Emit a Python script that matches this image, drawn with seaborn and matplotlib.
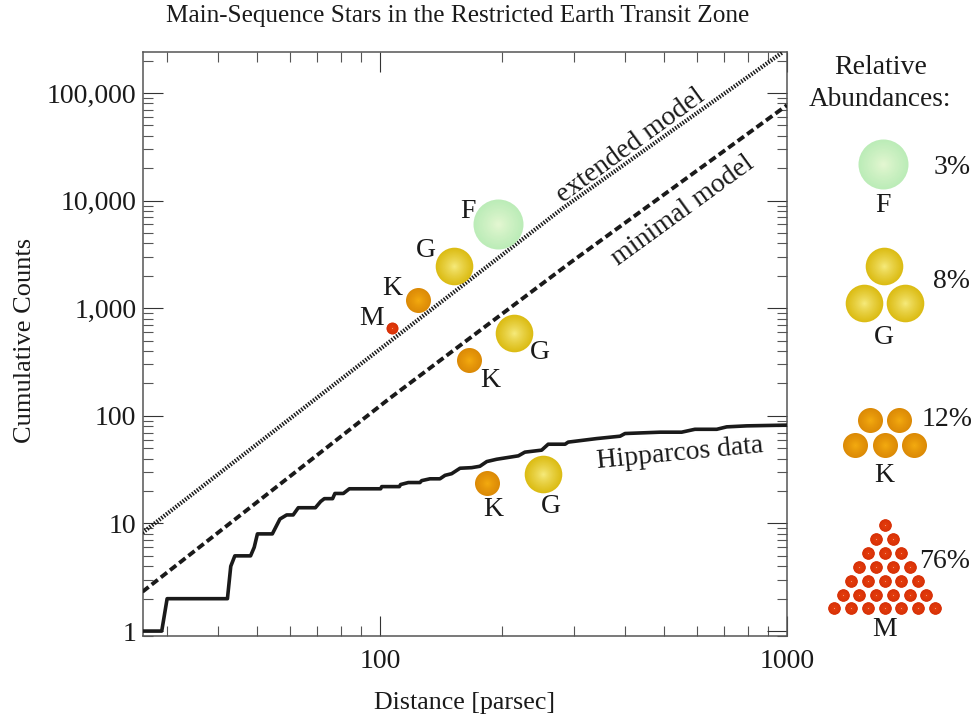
import numpy as np
import pandas as pd
import seaborn as sns
import matplotlib.pyplot as plt
from matplotlib.ticker import FixedLocator, FuncFormatter, NullFormatter, LogLocator

sns.set_theme(style="ticks")
plt.rcParams['font.family'] = ['Liberation Serif', 'DejaVu Serif']

# Hipparcos cumulative counts
hip_dist = [26.1, 29.1, 30.0, 42.2, 43.0, 44.0, 48.1, 49.1, 50.0, 54.4, 56.8, 59.0, 61.2, 63.0,
            69.4, 71.5, 73.0, 76.5, 77.5, 81.3, 84.1, 100.4, 101, 111.6, 112.4, 117.4, 125.4,
            126.6, 132.7, 140.4, 144.5, 150, 157.3, 168, 176, 183, 193.5, 218.8, 227, 249.6,
            259, 285, 290, 341, 389, 400, 487.5, 551, 594, 672, 711, 796, 1000]
hip_count = [1, 1, 2, 2, 4, 5, 5, 6, 8, 8, 11, 12, 12, 14,
             14, 16, 17, 17, 19, 19, 21, 21, 22, 22, 23, 24, 24,
             25, 26, 26, 28, 29, 32.6, 33, 34, 37.6, 39.5, 42.5, 46, 48,
             54.5, 54.5, 57, 61.5, 64.7, 68.5, 70.5, 70.5, 75, 75, 79, 80.7, 82]

# model curves
ext_dist = [26.1, 84.4, 281.6, 977]
ext_count = [8.2, 254, 8540, 240000]
min_dist = [26.1, 105.8, 293, 1000]
min_count = [2.32, 146, 2640, 77000]

# stars sitting on the plot
star_types = ['F', 'G', 'K', 'M', 'G', 'K', 'K', 'G']
star_dist = [194.6, 151.7, 124, 107, 213, 165.5, 183, 251]
star_count = [6060, 2483, 1192, 655, 588, 330, 23.7, 28.8]

# relative abundances
abund_types = ['F', 'G', 'K', 'M']
abund_pct = ['3%', '8%', '12%', '76%']

y_ticks = [1, 10, 100, 1000, 10000, 100000]
x_ticks = [100, 1000]

radius = {'F': 25, 'G': 18.8, 'K': 12.5, 'M': 6.3}
light = {'F': '#e8f8d4', 'G': '#f8ee84', 'K': '#f6ae10', 'M': '#e8400c'}
dark = {'F': '#bcecb8', 'G': '#dcbc14', 'K': '#dc8a06', 'M': '#d83208'}
radius_main = {'F': 25, 'G': 18.8, 'K': 12.5, 'M': 6}
label_off = {0: (-30, 13), 1: (-28, 15), 2: (-26, 12), 3: (-20, 10),
             4: (26, -19), 5: (21, -20), 6: (6, -26), 7: (8, -32)}
PX = 72 / 100
FS = 20


def draw_star(ax, x, y, kind, r):
    # layered discs fake the radial shading
    xs = np.atleast_1d(x)
    ys = np.atleast_1d(y)
    c0 = np.array(plt.matplotlib.colors.to_rgb(dark[kind]))
    c1 = np.array(plt.matplotlib.colors.to_rgb(light[kind]))
    for f in np.linspace(1, 0.06, 16):
        col = c1 + (c0 - c1) * f ** 0.8
        sns.scatterplot(x=xs, y=ys, s=(2 * r * f * PX) ** 2, color=[tuple(col)], linewidth=0,
                        ax=ax, legend=False, zorder=5, clip_on=False)


fig = plt.figure(figsize=(9.75, 7.21), dpi=100)
ax = fig.add_axes([142.5 / 975, 1 - 636 / 721, (787 - 142.5) / 975, (636 - 52) / 721])

sns.lineplot(x=hip_dist, y=hip_count, color='k', lw=2.6, ax=ax, zorder=3, estimator=None, sort=False)
sns.lineplot(x=min_dist, y=min_count, color='k', lw=2.8, ax=ax, zorder=3, estimator=None,
             sort=False, linestyle=(0, (2.0, 1.0)))
sns.lineplot(x=ext_dist, y=ext_count, color='k', lw=3, ax=ax, zorder=3, estimator=None,
             sort=False, linestyle=(0, (0.36, 0.36)))

ax.set_xscale('log')
ax.set_yscale('log')
ax.set_xlim(26.1, 1000)
ax.set_ylim(0.9, 240400)

ax.xaxis.set_major_locator(FixedLocator(x_ticks))
ax.xaxis.set_major_formatter(FuncFormatter(lambda v, p: f'{int(v)}'))
ax.xaxis.set_minor_locator(FixedLocator([v * d for d in (10, 100) for v in range(2, 10)]))
ax.xaxis.set_minor_formatter(NullFormatter())
ax.yaxis.set_major_locator(FixedLocator(y_ticks))
ax.yaxis.set_major_formatter(FuncFormatter(lambda v, p: f'{int(v):,}'))
ax.yaxis.set_minor_locator(LogLocator(base=10, subs=range(2, 10), numticks=12))
ax.yaxis.set_minor_formatter(NullFormatter())
ax.tick_params(which='major', direction='in', top=True, right=True, length=20 * PX, width=0.8,
               color='#333333', labelsize=FS, labelcolor='k', pad=9)
ax.tick_params(axis='y', which='major', pad=4.5)
ax.tick_params(which='minor', direction='in', top=True, right=True, length=10 * PX, width=0.8,
               color='#555555')
for s in ax.spines.values():
    s.set_linewidth(1.1)
    s.set_color('#555555')

for i, kind in enumerate(star_types):
    draw_star(ax, star_dist[i], star_count[i], kind, radius_main[kind])
    ax.annotate(kind, (star_dist[i], star_count[i]), xytext=(label_off[i][0] * PX, label_off[i][1] * PX),
                textcoords='offset points', ha='center', va='center', fontsize=FS, color='k', zorder=6)

ax.text(631 / 975, 1 - 146 / 721, 'extended model', transform=fig.transFigure, rotation=36, fontsize=FS,
        ha='center', va='center', rotation_mode='anchor', color='k')
ax.text(683 / 975, 1 - 211 / 721, 'minimal model', transform=fig.transFigure, rotation=36, fontsize=FS,
        ha='center', va='center', rotation_mode='anchor', color='k')
ax.text(680 / 975, 1 - 454 / 721, 'Hipparcos data', transform=fig.transFigure, rotation=5.5, fontsize=FS,
        ha='center', va='center', rotation_mode='anchor', color='k')

fig.text(458 / 975, 1 - 16 / 721, 'Main-Sequence Stars in the Restricted Earth Transit Zone', fontsize=18.2,
         ha='center', va='center', color='k')
fig.text(465 / 975, 1 - 703 / 721, 'Distance [parsec]', fontsize=18.7, ha='center', va='center', color='k')
fig.text(25 / 975, 1 - 340 / 721, 'Cumulative Counts', fontsize=19, rotation=90, ha='center', va='center', color='k')

# right hand pictograms, axes in pixel units
panel = fig.add_axes([0, 0, 1, 1], facecolor='none')
panel.set_xlim(0, 975)
panel.set_ylim(721, 0)
panel.axis('off')

panel.text(881, 68, 'Relative', fontsize=FS, ha='center', va='center', color='k')
panel.text(880, 99, 'Abundances:', fontsize=19.6, ha='center', va='center', color='k')

rows = {'F': [1], 'G': [1, 2], 'K': [2, 3], 'M': [1, 2, 3, 4, 5, 6, 7]}
top_y = {'F': 164, 'G': 266, 'K': 420, 'M': 525}
step_x = {'F': 0, 'G': 41, 'K': 29.5, 'M': 16.7}
step_y = {'F': 0, 'G': 37, 'K': 25, 'M': 13.9}
mid_x = {'F': 883, 'G': 884, 'K': 884.5, 'M': 884.5}
label_y = {'F': 205, 'G': 337, 'K': 475, 'M': 629}
pct_x = {'F': 952, 'G': 952, 'K': 947, 'M': 945}
pct_y = {'F': 167, 'G': 282, 'K': 420, 'M': 561}

for kind, pct in zip(abund_types, abund_pct):
    xs, ys = [], []
    for j, n in enumerate(rows[kind]):
        for k in range(n):
            xs.append(mid_x[kind] + (k - (n - 1) / 2) * step_x[kind])
            ys.append(top_y[kind] + j * step_y[kind])
    draw_star(panel, xs, ys, kind, radius[kind])
    panel.set_xlim(0, 975)
    panel.set_ylim(721, 0)
    panel.text(mid_x[kind], label_y[kind], kind, fontsize=FS, ha='center', va='center', color='k')
    panel.text(pct_x[kind], pct_y[kind], pct, fontsize=FS, ha='center', va='center', color='k')
panel.axis('off')

fig.savefig('out.png', dpi=100)
